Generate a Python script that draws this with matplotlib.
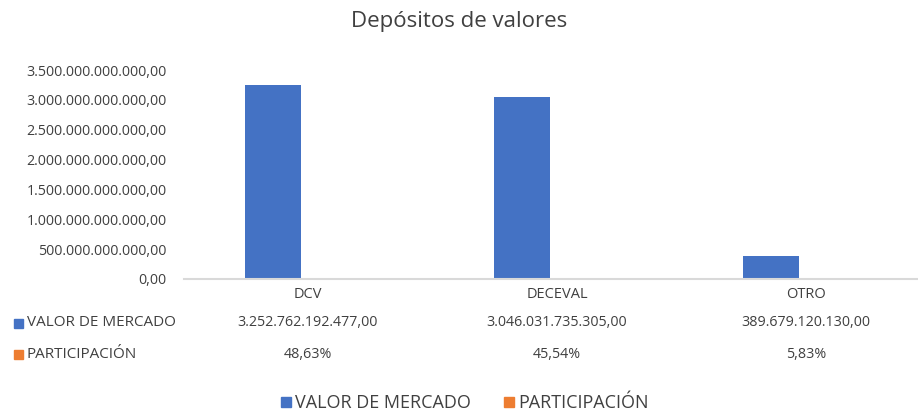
import matplotlib
matplotlib.use("Agg")
import matplotlib.pyplot as plt
from matplotlib.transforms import blended_transform_factory
from matplotlib.patches import Rectangle
from matplotlib.lines import Line2D
from matplotlib.ticker import FuncFormatter

plt.rcParams['font.family'] = ['Open Sans', 'DejaVu Sans']

categories = ["DCV", "DECEVAL", "OTRO"]
valor_mercado = [3252762192477.00, 3046031735305.00, 389679120130.00]
participacion = [0.4863, 0.4554, 0.0583]
series_names = ["VALOR DE MERCADO", "PARTICIPACIÓN"]
title = "Depósitos de valores"

BLUE = "#4472C4"
ORANGE = "#ED7D31"
TXT = "#404040"

def fmt_es(v, dec=2):
    s = f"{v:,.{dec}f}"
    return s.replace(",", "X").replace(".", ",").replace("X", ".")

W, H = 918, 413
fig = plt.figure(figsize=(W / 100, H / 100), dpi=100)
ax = fig.add_axes([183.5 / W, 1 - 279 / H, 747 / W, 209 / H])

x = list(range(len(categories)))
bw = 0.225
ax.bar([i - 0.14 for i in x], valor_mercado, width=bw, color=BLUE, zorder=2)
ax.bar([i - 0.14 + bw for i in x], participacion, width=bw, color=ORANGE, zorder=2)

ax.set_xlim(-0.5, 2.5)
ax.set_ylim(0, 3.5e12)
ax.set_yticks([i * 0.5e12 for i in range(8)])
ax.yaxis.set_major_formatter(FuncFormatter(lambda v, p: fmt_es(v)))
ax.tick_params(axis='y', length=0, labelsize=10.3, labelcolor=TXT, pad=12)
ax.set_xticks([])
for s in ["top", "right", "left"]:
    ax.spines[s].set_visible(False)
ax.spines["bottom"].set_color("#D9D9D9")
ax.spines["bottom"].set_linewidth(1.5)

fig.text(0.5, 1 - 22 / H, title, ha='center', va='center', fontsize=16, color=TXT)

tr = blended_transform_factory(ax.transData, fig.transFigure)
for i, c in enumerate(categories):
    ax.text(i, 1 - 295 / H, c, transform=tr, ha='center', va='center', fontsize=10.5, color=TXT)
    ax.text(i, 1 - 323 / H, fmt_es(valor_mercado[i]), transform=tr, ha='center', va='center', fontsize=10.3, color=TXT)
    ax.text(i, 1 - 354 / H, fmt_es(participacion[i] * 100) + "%", transform=tr, ha='center', va='center', fontsize=10.3, color=TXT)

for yy, name, col in [(323, series_names[0], BLUE), (354, series_names[1], ORANGE)]:
    fig.patches.append(Rectangle((14 / W, 1 - (yy + 4.5) / H), 9 / W, 9 / H, transform=fig.transFigure,
                                 color=col, figure=fig))
    fig.text(27 / W, 1 - yy / H, name, ha='left', va='center', fontsize=11, color=TXT)

handles = [Line2D([], [], marker='s', color=c, linestyle='none', markersize=7) for c in (BLUE, ORANGE)]
fig.legend(handles, series_names, loc='center', bbox_to_anchor=(465 / W, 1 - 403 / H), ncol=2,
           frameon=False, fontsize=13, labelcolor=TXT, handlelength=0.5, handletextpad=0.25,
           columnspacing=1.9)

fig.savefig("out.png", dpi=100)
